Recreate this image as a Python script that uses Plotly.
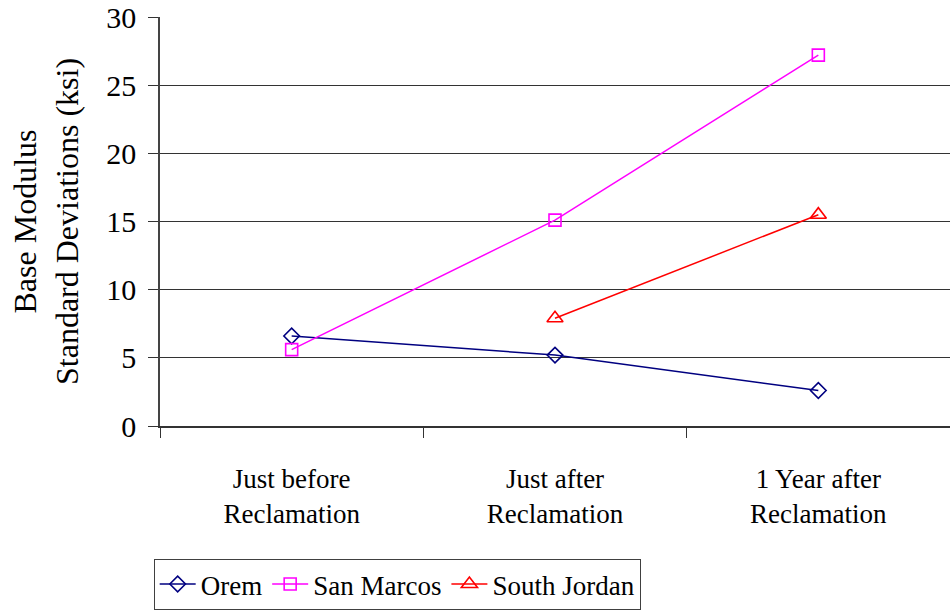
import plotly.graph_objects as go

# Categories along the x axis (two-line labels)
stages = ["Just before<br>Reclamation", "Just after<br>Reclamation", "1 Year after<br>Reclamation"]

# Base modulus standard deviations (ksi) per site
orem = [6.6, 5.2, 2.6]
san_marcos = [5.6, 15.1, 27.2]
south_jordan = [None, 7.9, 15.5]

series = [
    ("Orem", orem, "#000080", "diamond-open", 12),
    ("San Marcos", san_marcos, "#FF00FF", "square-open", 12),
    ("South Jordan", south_jordan, "#FF0000", "triangle-up-open", 14),
]

serif = "Liberation Serif, Times New Roman, serif"

fig = go.Figure()
for name, vals, color, symbol, size in series:
    fig.add_trace(go.Scatter(
        x=stages, y=vals, name=name, mode="lines+markers",
        line=dict(color=color, width=1.5),
        marker=dict(symbol=symbol, size=size, color=color,
                    line=dict(color=color, width=1.6)),
        connectgaps=False,
    ))

fig.update_layout(
    width=950, height=614,
    margin=dict(l=160, r=0, t=17, b=188),
    paper_bgcolor="white", plot_bgcolor="white",
    font=dict(family=serif, color="black", size=26),
    showlegend=True,
    legend=dict(
        orientation="h", x=-0.008, y=-0.325, xanchor="left", yanchor="top",
        bordercolor="#404040", borderwidth=1,
        font=dict(family=serif, size=27, color="black"),
        itemwidth=36,
    ),
)

fig.update_xaxes(
    type="category", range=[-0.5, 2.5],
    tickson="boundaries", ticks="outside", ticklen=10, tickwidth=1.2,
    tickcolor="#333333",
    showgrid=False, zeroline=False,
    showline=True, linecolor="#333333", linewidth=1.5,
    tickfont=dict(family=serif, size=27, color="black"),
    ticklabelstandoff=28,
)

fig.update_yaxes(
    range=[0, 30], dtick=5, tick0=0,
    ticks="outside", ticklen=10, tickwidth=1.2, tickcolor="#333333",
    showgrid=True, gridcolor="#333333", gridwidth=1.2,
    zeroline=False,
    showline=True, linecolor="#444444", linewidth=1.5,
    tickfont=dict(family=serif, size=30, color="black"),
    ticklabelstandoff=6,
    title=dict(text="Base Modulus<br>Standard Deviations (ksi)",
               font=dict(family=serif, size=32, color="black"),
               standoff=18),
)

fig.write_html("out.html")
